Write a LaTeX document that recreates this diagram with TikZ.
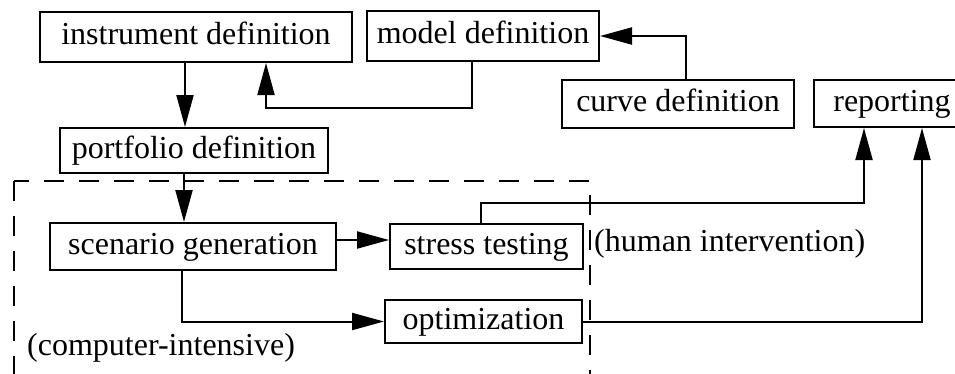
\documentclass[tikz,border=0pt]{standalone}
\usepackage{fontspec}
\setmainfont{Liberation Serif}
\usetikzlibrary{arrows.meta}
\begin{document}
\begin{tikzpicture}[x=1pt,y=-1pt,
  box/.style={draw,line width=2pt,rectangle,inner sep=0pt,
    font=\fontsize{32}{36}\selectfont,text height=22pt,text depth=6.4pt},
  arr/.style={line width=2pt,-{Triangle[length=32pt,width=17pt]}},
  lbl/.style={font=\fontsize{32}{36}\selectfont,inner sep=0pt},
  dashbox/.style={line width=2pt,dash pattern=on 20pt off 15pt}]
\clip (0,0) rectangle (955,373);
\useasboundingbox (0,0) rectangle (955,373);
\node[box,minimum width=312pt,minimum height=50pt] (inst) at (196,37) {instrument definition};
\node[box,minimum width=232pt,minimum height=50pt] (model) at (483,36) {model definition};
\node[box,minimum width=232pt,minimum height=48pt] (curve) at (678,104) {curve definition};
\node[box,minimum width=156pt,minimum height=47pt] (report) at (892,103.5) {reporting};
\node[box,minimum width=268pt,minimum height=45pt] (port) at (194,150.5) {portfolio definition};
\node[box,minimum width=286pt,minimum height=47pt] (scen) at (193,246.5) {scenario generation};
\node[box,minimum width=193pt,minimum height=45pt] (stress) at (486.5,246.5) {stress testing};
\node[box,minimum width=197pt,minimum height=43pt] (opt) at (483.5,321.5) {optimization};
\node[lbl,anchor=base west] (human) at (594,251) {(human intervention)};
\node[lbl,anchor=base west] (comp) at (27,355) {(computer-intensive)};
\draw[dashbox] (14,181) rectangle (590,400);
\draw[arr] (inst.south -| 185,0) -- (port.north -| 185,0);
\draw[arr] (model.south -| 472,0) |- (266,108) -- (inst.south -| 266,0);
\draw[arr] (curve.north -| 686,0) |- (model.east);
\draw[arr] (port.south -| 184,0) -- (scen.north -| 184,0);
\draw[arr] (scen.east |- 0,240) -- (stress.west |- 0,240);
\draw[arr] (scen.south -| 182,0) |- (opt.west);
\draw[arr] (stress.north -| 481,0) |- (864,203) -- (report.south -| 864,0);
\draw[arr] (opt.east) -| (report.south -| 922,0);
\end{tikzpicture}
\end{document}
